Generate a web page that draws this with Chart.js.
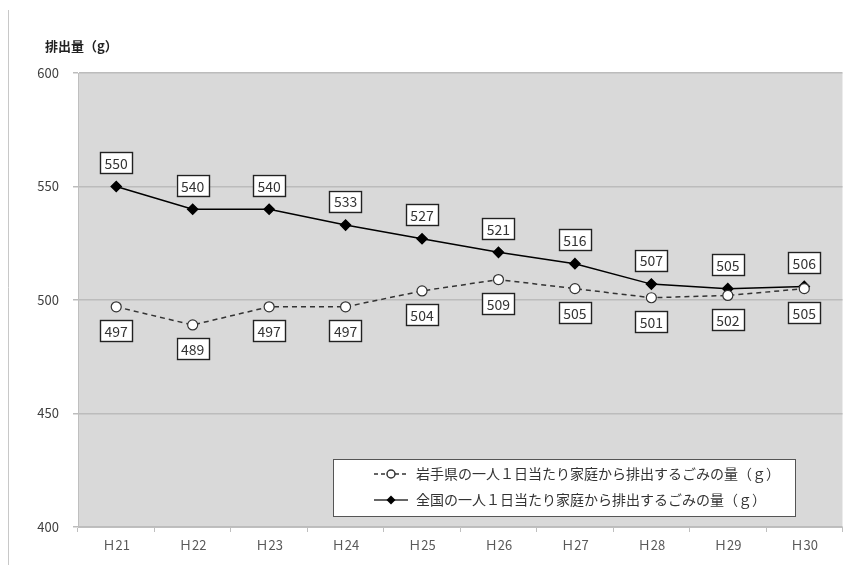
<!DOCTYPE html>
<html>
<head>
<meta charset="utf-8">
<script src="https://cdn.jsdelivr.net/npm/chart.js"></script>
<style>
  html, body { margin: 0; padding: 0; background: #fff; overflow: hidden; }
  #wrap { position: relative; width: 844px; height: 565px; overflow: hidden; }
</style>
</head>
<body>
<div id="wrap"><canvas id="c"></canvas></div>
<script>
// data
const years = ['Ｈ21', 'Ｈ22', 'Ｈ23', 'Ｈ24', 'Ｈ25', 'Ｈ26', 'Ｈ27', 'Ｈ28', 'Ｈ29', 'Ｈ30'];
const iwateValues = [497, 489, 497, 497, 504, 509, 505, 501, 502, 505];
const nationalValues = [550, 540, 540, 533, 527, 521, 516, 507, 505, 506];
const iwateLabel = '岩手県の一人１日当たり家庭から排出するごみの量（ｇ）';
const nationalLabel = '全国の一人１日当たり家庭から排出するごみの量（ｇ）';
const yTitle = '排出量（g）';

const FONT = '"Noto Sans CJK JP", "Open Sans", sans-serif';

// gray plot background + left rule + title
const backdrop = {
  id: 'backdrop',
  beforeDraw(chart) {
    const ctx = chart.ctx, a = chart.chartArea;
    ctx.save();
    ctx.fillStyle = '#d9d9d9';
    ctx.fillRect(a.left, a.top, a.right - a.left, a.bottom - a.top);
    ctx.strokeStyle = '#c8c8c8';
    ctx.lineWidth = 1;
    ctx.beginPath();
    ctx.moveTo(8.5, 10);
    ctx.lineTo(8.5, 565);
    ctx.stroke();
    ctx.fillStyle = '#222';
    ctx.font = 'bold 13px ' + FONT;
    ctx.textBaseline = 'middle';
    ctx.fillText(yTitle, 45, 46);
    ctx.restore();
  }
};

// boxed value labels
function drawBox(ctx, text, cx, cy) {
  ctx.font = '14px ' + FONT;
  const w = ctx.measureText(text).width + 9, h = 21;
  ctx.fillStyle = '#fff';
  ctx.fillRect(cx - w / 2, cy - h / 2, w, h);
  ctx.strokeStyle = '#222';
  ctx.lineWidth = 1.4;
  ctx.strokeRect(Math.round(cx - w / 2) + 0.5, Math.round(cy - h / 2) + 0.5, Math.round(w), h);
  ctx.fillStyle = '#333';
  ctx.textAlign = 'center';
  ctx.textBaseline = 'middle';
  ctx.fillText(text, cx, cy + 1);
}

const valueBoxes = {
  id: 'valueBoxes',
  afterDatasetsDraw(chart) {
    const ctx = chart.ctx;
    ctx.save();
    chart.getDatasetMeta(1).data.forEach((pt, i) => drawBox(ctx, String(nationalValues[i]), pt.x, pt.y - 24));
    chart.getDatasetMeta(0).data.forEach((pt, i) => drawBox(ctx, String(iwateValues[i]), pt.x, pt.y + 24));
    ctx.restore();
  }
};

// legend box inside the plot
const legendBox = {
  id: 'legendBox',
  afterDraw(chart) {
    const ctx = chart.ctx;
    const x = 333, y = 459, w = 462, h = 57;
    ctx.save();
    ctx.fillStyle = '#fff';
    ctx.fillRect(x, y, w, h);
    ctx.strokeStyle = '#555';
    ctx.lineWidth = 1;
    ctx.strokeRect(x + 0.5, y + 0.5, w, h);

    // dashed line + circle
    let ly = y + 15;
    ctx.strokeStyle = '#333';
    ctx.lineWidth = 1.5;
    ctx.setLineDash([4, 3]);
    ctx.beginPath(); ctx.moveTo(374, ly); ctx.lineTo(408, ly); ctx.stroke();
    ctx.setLineDash([]);
    ctx.fillStyle = '#fff';
    ctx.beginPath(); ctx.arc(391, ly, 4, 0, Math.PI * 2); ctx.fill(); ctx.stroke();

    // solid line + diamond
    let ly2 = y + 41;
    ctx.beginPath(); ctx.moveTo(374, ly2); ctx.lineTo(408, ly2); ctx.stroke();
    ctx.fillStyle = '#000';
    ctx.beginPath();
    ctx.moveTo(391, ly2 - 4.5); ctx.lineTo(395.5, ly2); ctx.lineTo(391, ly2 + 4.5); ctx.lineTo(386.5, ly2);
    ctx.closePath(); ctx.fill();

    ctx.fillStyle = '#333';
    ctx.font = '14px ' + FONT;
    ctx.textBaseline = 'middle';
    ctx.textAlign = 'left';
    ctx.fillText(iwateLabel, 416, ly);
    ctx.fillText(nationalLabel, 416, ly2);
    ctx.restore();
  }
};

const canvas = document.getElementById('c');
canvas.width = 849;
canvas.height = 565;
canvas.style.width = '849px';
canvas.style.height = '565px';

const chart = new Chart(canvas, {
  type: 'line',
  data: {
    labels: years,
    datasets: [
      {
        label: iwateLabel,
        data: iwateValues,
        borderColor: '#333',
        borderWidth: 1.5,
        borderDash: [5, 4],
        pointStyle: 'circle',
        pointRadius: 5,
        pointBackgroundColor: '#fff',
        pointBorderColor: '#333',
        pointBorderWidth: 1.2,
        tension: 0
      },
      {
        label: nationalLabel,
        data: nationalValues,
        borderColor: '#000',
        borderWidth: 1.5,
        pointStyle: 'rectRot',
        pointRadius: 5,
        pointBackgroundColor: '#000',
        pointBorderColor: '#000',
        tension: 0
      }
    ]
  },
  options: {
    responsive: false,
    animation: false,
    devicePixelRatio: 1,
    layout: { padding: { top: 73, left: 0, right: 0, bottom: 0 } },
    plugins: {
      legend: { display: false },
      tooltip: { enabled: false }
    },
    scales: {
      x: {
        offset: true,
        grid: { offset: true, drawOnChartArea: false, color: '#bfbfbf', tickLength: 5 },
        border: { color: '#bfbfbf' },
        ticks: { color: '#595959', font: { family: FONT, size: 13 }, padding: 5 },
        afterFit(scale) { scale.height = 38; }
      },
      y: {
        min: 400,
        max: 600,
        ticks: { stepSize: 50, color: '#404040', font: { family: FONT, size: 13 }, padding: 14 },
        grid: { color: '#bcbcbc', lineWidth: 1.5, tickLength: 5 },
        border: { color: '#bfbfbf' },
        afterFit(scale) { scale.width = 78; }
      }
    }
  },
  plugins: [backdrop, valueBoxes, legendBox]
});
</script>
</body>
</html>
